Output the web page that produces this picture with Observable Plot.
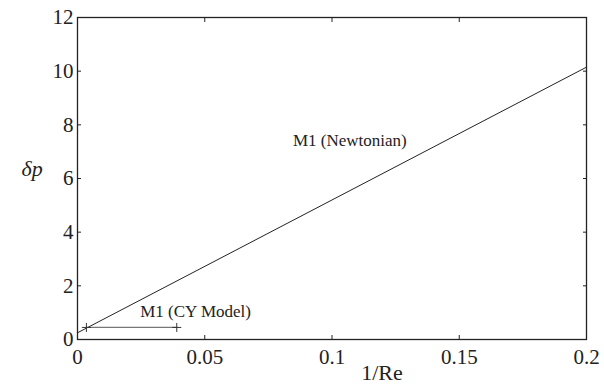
<!DOCTYPE html>
<html>
<head>
<meta charset="utf-8">
<script src="https://cdn.jsdelivr.net/npm/d3@7"></script>
<script src="https://cdn.jsdelivr.net/npm/@observablehq/plot@0.6"></script>
<style>
  body { margin: 0; background: #fff; }
</style>
</head>
<body>
<div id="chart"></div>
<script>
// Data
const newtonX = [0, 0.2];
const newtonY = [0.25, 10.15];
const cyX = [0.0035, 0.039];
const cyY = [0.45, 0.45];
const xTicks = [0, 0.05, 0.1, 0.15, 0.2];
const xTickLabels = ["0", "0.05", "0.1", "0.15", "0.2"];
const yTicks = [0, 2, 4, 6, 8, 10, 12];
const yTickLabels = ["0", "2", "4", "6", "8", "10", "12"];
const labelNames = ["M1 (Newtonian)", "M1 (CY Model)"];
const labelX = [0.107, 0.0464];
const labelY = [7.43, 1.04];

const newton = newtonX.map((x, i) => ({x, y: newtonY[i]}));
const cy = cyX.map((x, i) => ({x, y: cyY[i]}));
const labels = labelNames.map((t, i) => ({t, x: labelX[i], y: labelY[i]}));

const serif = "'Liberation Serif', 'Times New Roman', Times, serif";

const chart = Plot.plot({
  width: 604,
  height: 388,
  marginLeft: 77,
  marginRight: 18,
  marginTop: 17,
  marginBottom: 49,
  style: {background: "#fff", color: "#222", fontFamily: serif},
  x: {domain: [0, 0.2]},
  y: {domain: [0, 12]},
  marks: [
    Plot.frame({stroke: "#222", strokeWidth: 1.3}),
    // inward ticks on all four sides (labels drawn separately)
    Plot.axisX(xTicks, {anchor: "bottom", tickSize: -4, text: null, label: null, stroke: "#222"}),
    Plot.axisX(xTicks, {anchor: "top", tickSize: -4, text: null, label: null, stroke: "#222"}),
    Plot.axisY(yTicks, {anchor: "left", tickSize: -4, text: null, label: null, stroke: "#222"}),
    Plot.axisY(yTicks, {anchor: "right", tickSize: -4, text: null, label: null, stroke: "#222"}),
    // tick labels
    Plot.text(xTicks, {x: d => d, frameAnchor: "bottom", lineAnchor: "top", dy: 10, text: (d, i) => xTickLabels[i], fontSize: 21, fontFamily: serif, fill: "#222"}),
    Plot.text(yTicks, {y: d => d, frameAnchor: "left", textAnchor: "end", dx: -4, text: (d, i) => yTickLabels[i], fontSize: 21, fontFamily: serif, fill: "#222"}),
    Plot.line(newton, {x: "x", y: "y", stroke: "#222", strokeWidth: 1}),
    Plot.line(cy, {x: "x", y: "y", stroke: "#777", strokeWidth: 1.3}),
    Plot.dot(cy, {x: "x", y: "y", symbol: "plus", r: 3, stroke: "#333", strokeWidth: 1}),
    Plot.text(labels, {x: "x", y: "y", text: "t", textAnchor: (d, i) => i === 0 ? "middle" : "start", fontSize: 17, fontFamily: serif, fill: "#222"}),
    Plot.text(["1/Re"], {frameAnchor: "bottom", dx: 50, dy: 40, fontSize: 22, fontFamily: serif, fill: "#222"}),
    Plot.text(["δp"], {frameAnchor: "left", dx: -56, dy: -10, fontSize: 22, fontFamily: serif, fontStyle: "italic", fill: "#222"})
  ]
});
document.getElementById("chart").appendChild(chart);
</script>
</body>
</html>
